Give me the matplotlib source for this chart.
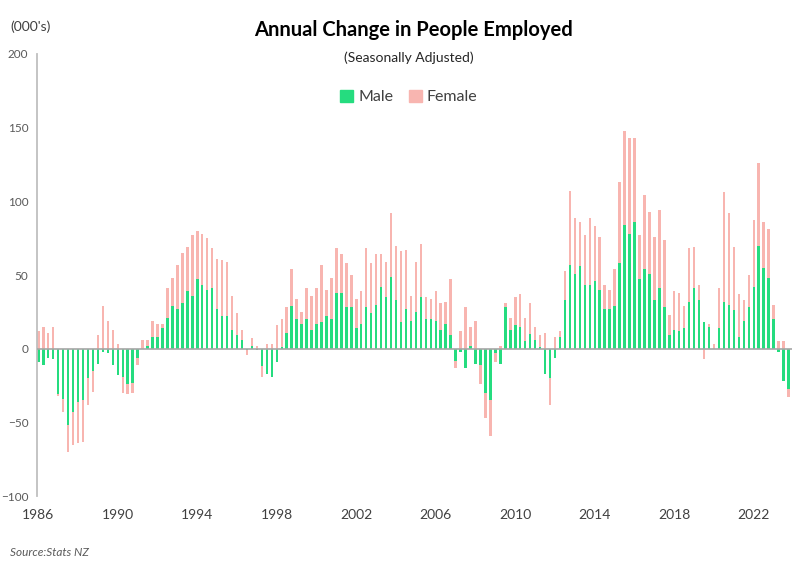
import numpy as np
import matplotlib
matplotlib.use("Agg")
import matplotlib.pyplot as plt
from matplotlib.patches import Patch

plt.rcParams['font.family'] = ['Lato', 'DejaVu Sans']

# --- datos: cambio anual (miles), trimestral 1986 Q1 - 2023 Q4 ---
male = [-9, -11, -6, -7, -31, -34, -52, -43, -36, -35, -20, -15, -10, -2, -3, -11,
        -18, -19, -24, -23, -6, 0, 2, 8, 8, 14, 21, 29, 27, 31, 39, 36,
        47, 43, 40, 41, 27, 22, 22, 13, 9, 6, -1, 2, -1, -12, -17, -19,
        -9, 1, 11, 29, 20, 17, 20, 13, 17, 18, 22, 20, 38, 38, 28, 28,
        14, 17, 28, 24, 30, 42, 35, 49, 33, 18, 27, 19, 25, 35, 20, 20,
        19, 13, 17, 9, -8, -2, -13, 2, -10, -11, -30, -35, -3, -10, 28, 13,
        16, 15, 5, 10, 6, 1, -17, -20, -6, 8, 33, 57, 51, 56, 43, 43,
        46, 40, 27, 27, 29, 58, 84, 78, 86, 47, 54, 51, 33, 41, 28, 9,
        13, 12, 14, 32, 41, 33, 18, 15, 0, 14, 32, 30, 26, 8, 19, 28,
        42, 70, 55, 48, 20, -2, -22, -27]
female = [12, 15, 11, 15, -1, -9, -18, -22, -28, -28, -18, -14, 9, 29, 19, 13,
          3, -11, -7, -7, -5, 6, 4, 11, 9, 3, 20, 19, 30, 34, 30, 41,
          33, 35, 35, 27, 34, 38, 37, 23, 15, 7, -3, 5, 2, -7, 3, 3,
          16, 19, 17, 25, 14, 8, 21, 23, 24, 39, 18, 28, 30, 26, 30, 22,
          20, 22, 40, 34, 34, 22, 24, 43, 37, 48, 40, 17, 34, 36, 15, 14,
          20, 18, 15, 38, -5, 12, 28, 13, 19, -13, -17, -24, -6, 2, 3, 8,
          19, 22, 16, 21, 9, 8, 11, -18, 8, 4, 20, 50, 38, 30, 34, 46,
          37, 36, 16, 13, 25, 55, 64, 65, 57, 30, 50, 42, 43, 53, 46, 14,
          26, 26, 15, 36, 28, 10, -7, 2, 3, 27, 74, 62, 43, 29, 14, 22,
          45, 56, 31, 33, 10, 5, 5, -6]
etiquetas_anios = ['1986', '1990', '1994', '1998', '2002', '2006', '2010',
                   '2014', '2018', '2022']

verde = '#25DC7F'
rosa = '#F8B5B0'

m = np.array(male, dtype=float)
f = np.array(female, dtype=float)
x = np.arange(len(m))
# apilado tipo Excel: positivos sobre positivos, negativos bajo negativos
base_f = np.where(np.sign(f) == np.sign(m), m, 0)

fig = plt.figure(figsize=(8, 5.73), dpi=100)
ax = fig.add_axes([0.046, 0.134, 0.944, 0.772])

ax.bar(x, m, width=0.5, color=verde, zorder=2)
ax.bar(x, f, width=0.5, bottom=base_f, color=rosa, zorder=2)
ax.axhline(0, color='#A6A6A6', lw=1.2, zorder=3)

ax.set_xlim(-0.3, len(m) - 0.3)
ax.set_ylim(-100, 200)
ax.set_yticks(range(-100, 201, 50))
ax.set_xticks(np.arange(0, len(m), 16))
ax.set_xticklabels(etiquetas_anios)
ax.tick_params(axis='y', length=0, pad=6, labelsize=8.5, labelcolor='#595959')
ax.tick_params(axis='x', length=0, pad=9, labelsize=10, labelcolor='#404040')
for s in ['top', 'right', 'bottom']:
    ax.spines[s].set_visible(False)
ax.spines['left'].set_color('#BFBFBF')
ax.spines['left'].set_linewidth(1.3)

fig.text(0.517, 1 - 30 / 573, 'Annual Change in People Employed', ha='center',
         va='center', fontsize=14.5, fontweight='bold', color='black')
fig.text(0.511, 1 - 58 / 573, '(Seasonally Adjusted)', ha='center', va='center',
         fontsize=10, color='#262626')
fig.text(0.013, 1 - 27 / 573, "(000's)", ha='left', va='center', fontsize=10,
         color='#404040')
fig.text(0.013, 1 - 552 / 573, 'Source:Stats NZ', ha='left', va='center',
         fontsize=8.5, style='italic', color='#595959')

handles = [Patch(color=verde, label='Male'), Patch(color=rosa, label='Female')]
fig.legend(handles=handles, loc='center', bbox_to_anchor=(0.511, 1 - 97 / 573),
           ncol=2, frameon=False, fontsize=11.5, handlelength=0.8, handleheight=0.8,
           handletextpad=0.3, columnspacing=1.0, labelcolor='#404040')

plt.savefig('out.png', dpi=100)
